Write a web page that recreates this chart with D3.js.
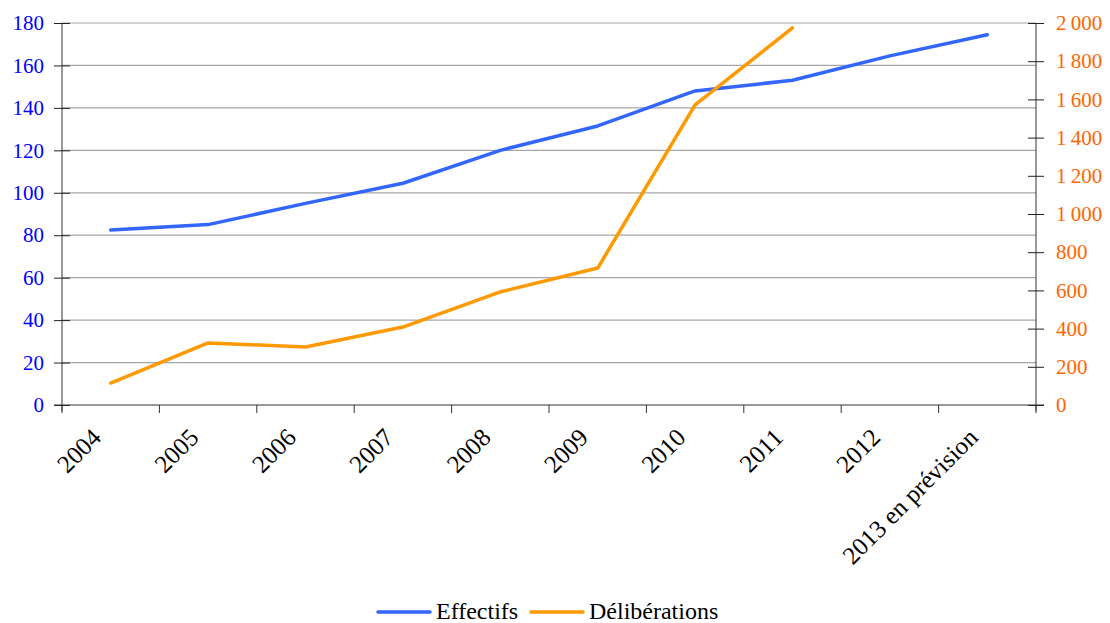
<!DOCTYPE html>
<html>
<head>
<meta charset="utf-8">
<script src="https://cdn.jsdelivr.net/npm/d3@7"></script>
<style>
  body { margin: 0; background: #fff; }
  svg { font-family: "Liberation Serif", "DejaVu Serif", serif; }
</style>
</head>
<body>
<div id="chart"></div>
<script>
var years = ["2004", "2005", "2006", "2007", "2008", "2009", "2010", "2011", "2012", "2013 en prévision"];
var effectifs = [82.5, 85, 95, 104.5, 120, 131.5, 148, 153, 164.5, 174.5];
var deliberations = [115, 325, 304, 408, 592, 717, 1571, 1974, null, null];
var leftTicks = [0, 20, 40, 60, 80, 100, 120, 140, 160, 180];
var rightTicks = [0, 200, 400, 600, 800, 1000, 1200, 1400, 1600, 1800, 2000];

var width = 1110, height = 623,
    plotLeft = 62, plotRight = 1036, plotTop = 23, plotBottom = 405;

var svg = d3.select("#chart").append("svg")
    .attr("width", width)
    .attr("height", height);

var x = d3.scaleBand().domain(years).range([plotLeft, plotRight]),
    yL = d3.scaleLinear().domain([0, 180]).range([plotBottom, plotTop]),
    yR = d3.scaleLinear().domain([0, 2000]).range([plotBottom, plotTop]);

var fmtR = function(d) { return d3.format(",")(d).replace(",", "\u2009"); };

// gridlines
svg.append("g")
  .selectAll("line")
  .data(leftTicks.slice(1))
  .enter().append("line")
    .attr("x1", plotLeft).attr("x2", plotRight)
    .attr("y1", function(d) { return yL(d); })
    .attr("y2", function(d) { return yL(d); })
    .attr("stroke", "#a6a6a6")
    .attr("stroke-width", 1.2);

// left axis
var gl = svg.append("g")
    .attr("transform", "translate(" + plotLeft + ",0)")
    .call(d3.axisLeft(yL).tickValues(leftTicks).tickSize(8).tickPadding(10))
    .attr("font-family", "Liberation Serif")
    .attr("font-size", 21);
gl.selectAll(".tick line").attr("x2", 8).attr("x1", -8).attr("stroke", "#222");
gl.select(".domain").attr("stroke", "#333").attr("d", "M0," + (plotBottom + 6) + "V" + plotTop);
gl.selectAll(".tick text").attr("fill", "#0000ff");

// right axis
var gr = svg.append("g")
    .attr("transform", "translate(" + plotRight + ",0)")
    .call(d3.axisRight(yR).tickValues(rightTicks).tickSize(8).tickPadding(12).tickFormat(fmtR))
    .attr("font-family", "Liberation Serif")
    .attr("font-size", 21);
gr.selectAll(".tick line").attr("x1", -8).attr("x2", 8).attr("stroke", "#222");
gr.select(".domain").attr("stroke", "#333").attr("d", "M0," + (plotBottom + 6) + "V" + plotTop);
gr.selectAll(".tick text").attr("fill", "#ff6600");

// x axis
var gx = svg.append("g")
    .attr("transform", "translate(0," + plotBottom + ")");
gx.append("line")
    .attr("x1", plotLeft - 8).attr("x2", plotRight + 8)
    .attr("stroke", "#333");
gx.selectAll(".xt")
  .data(years.concat(["end"]))
  .enter().append("line")
    .attr("class", "xt")
    .attr("x1", function(d, i) { return i < years.length ? x(d) : plotRight; })
    .attr("x2", function(d, i) { return i < years.length ? x(d) : plotRight; })
    .attr("y1", 0).attr("y2", 8)
    .attr("stroke", "#333");
gx.selectAll(".xl")
  .data(years)
  .enter().append("text")
    .attr("class", "xl")
    .attr("text-anchor", "end")
    .attr("transform", function(d) {
      return "translate(" + (x(d) + x.bandwidth() / 2 - 8) + ",34) rotate(-45)";
    })
    .style("font-size", "25px")
    .attr("fill", "#000")
    .text(function(d) { return d; });

// lines
var lineL = d3.line()
    .x(function(d, i) { return x(years[i]) + x.bandwidth() / 2; })
    .y(function(d) { return yL(d); });
var lineR = d3.line()
    .defined(function(d) { return d != null; })
    .x(function(d, i) { return x(years[i]) + x.bandwidth() / 2; })
    .y(function(d) { return yR(d); });

svg.append("path")
    .attr("d", lineL(effectifs))
    .attr("fill", "none")
    .attr("stroke", "#3366ff")
    .attr("stroke-width", 3.5)
    .attr("stroke-linecap", "round")
    .attr("stroke-linejoin", "round");

svg.append("path")
    .attr("d", lineR(deliberations))
    .attr("fill", "none")
    .attr("stroke", "#ff9900")
    .attr("stroke-width", 3.5)
    .attr("stroke-linecap", "round")
    .attr("stroke-linejoin", "round");

// legend
var legend = [
  {name: "Effectifs", color: "#3366ff", x: 378},
  {name: "Délibérations", color: "#ff9900", x: 531}
];
var lg = svg.selectAll(".legend")
  .data(legend)
  .enter().append("g")
    .attr("class", "legend")
    .attr("transform", function(d) { return "translate(" + d.x + ",612)"; });
lg.append("line")
    .attr("x1", 0).attr("x2", 52)
    .attr("stroke", function(d) { return d.color; })
    .attr("stroke-width", 3.5)
    .attr("stroke-linecap", "round");
lg.append("text")
    .attr("x", 58)
    .attr("dy", "0.3em")
    .style("font-size", "24px")
    .attr("fill", "#000")
    .text(function(d) { return d.name; });
</script>
</body>
</html>
